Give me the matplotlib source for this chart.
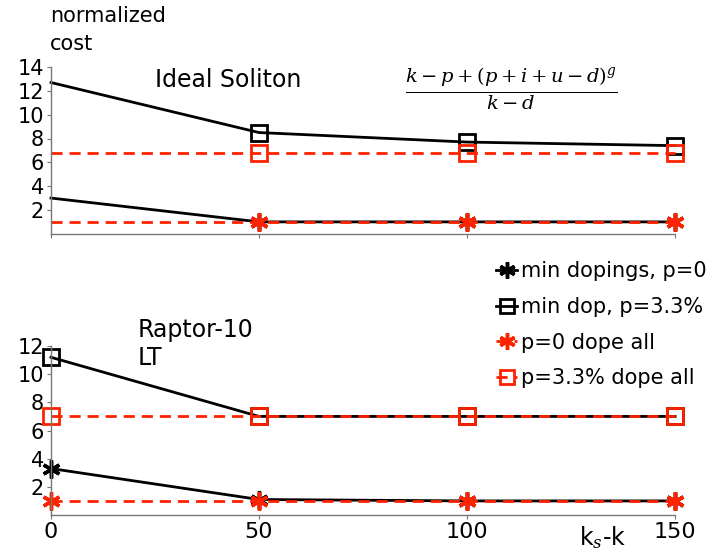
import matplotlib
matplotlib.use("Agg")
import matplotlib.pyplot as plt

# ks-k values
ks_k = [0, 50, 100, 150]

# Ideal Soliton (top panel)
ideal_min_dop_p0 = [3.0, 1.0, 1.0, 1.0]
ideal_min_dop_p33 = [12.7, 8.5, 7.7, 7.4]
ideal_all_p0 = [1.0, 1.0, 1.0, 1.0]
ideal_all_p33 = [6.8, 6.8, 6.8, 6.8]

# Raptor-10 LT (bottom panel)
raptor_min_dop_p0 = [3.3, 1.1, 1.0, 1.0]
raptor_min_dop_p33 = [11.2, 7.0, 7.0, 7.0]
raptor_all_p0 = [1.0, 1.0, 1.0, 1.0]
raptor_all_p33 = [7.0, 7.0, 7.0, 7.0]

labels = ["min dopings, p=0", "min dop, p=3.3%", "p=0 dope all", "p=3.3% dope all"]
x_ticks = [0, 50, 100, 150]

plt.rcParams['font.family'] = ['DejaVu Sans']
plt.rcParams['mathtext.fontset'] = 'dejavuserif'

fig = plt.figure(figsize=(7.1, 5.54), dpi=100)
ax_top = fig.add_axes([0.0718, 0.578, 0.879, 0.301])
ax_bot = fig.add_axes([0.0718, 0.0704, 0.879, 0.305])

red = '#ff2200'
star = (6, 2, 0)


def draw(ax, series, every):
    a, b, c, d = series
    ax.plot(ks_k, a, '-', color='black', lw=2, marker=star, ms=13, mew=2.5,
            markevery=every, clip_on=False, label=labels[0])
    ax.plot(ks_k, b, '-', color='black', lw=2, marker='s', ms=11, mfc='none',
            mew=2, markevery=every, clip_on=False, label=labels[1])
    ax.plot(ks_k, c, '--', color=red, lw=2, dashes=(4, 2.5), marker=star,
            ms=13, mew=2.5, markevery=every, clip_on=False, label=labels[2])
    ax.plot(ks_k, d, '--', color=red, lw=2, dashes=(4, 2.5), marker='s', ms=11,
            mfc='none', mew=2, markevery=every, clip_on=False, label=labels[3])
    ax.set_xlim(0, 150)
    for s in ['top', 'right']:
        ax.spines[s].set_visible(False)
    for s in ['left', 'bottom']:
        ax.spines[s].set_color('#777777')
        ax.spines[s].set_linewidth(1)
    ax.set_xticks(x_ticks)
    ax.tick_params(axis='both', colors='#777777', length=3, labelcolor='black',
                   labelsize=15, pad=2)


draw(ax_top, [ideal_min_dop_p0, ideal_min_dop_p33, ideal_all_p0, ideal_all_p33], [1, 2, 3])
ax_top.set_ylim(0, 14)
ax_top.set_yticks([2, 4, 6, 8, 10, 12, 14])
ax_top.set_xticklabels([])

draw(ax_bot, [raptor_min_dop_p0, raptor_min_dop_p33, raptor_all_p0, raptor_all_p33], [0, 1, 2, 3])
ax_bot.set_ylim(0, 12)
ax_bot.set_yticks([2, 4, 6, 8, 10, 12])
ax_bot.tick_params(axis='x', labelsize=16)

fig.text(0.07, 0.99, "normalized\ncost", fontsize=15, va='top', ha='left', linespacing=1.5)
fig.text(0.218, 0.855, "Ideal Soliton", fontsize=17, va='center', ha='left')
fig.text(0.72, 0.84, r"$\frac{k-p+(p+i+u-d)^g}{k-d}$", fontsize=20, ha='center', va='center')
fig.text(0.194, 0.332, "Raptor-10\nLT", fontsize=17, va='bottom', ha='left', linespacing=1.2)
fig.text(0.815, 0.03, r"k$_s$-k", fontsize=17, ha='left', va='center')

ax_bot.legend(loc='upper left', bbox_to_anchor=(0.70, 1.55), frameon=False,
              fontsize=15, handlelength=1.0, handletextpad=0.2, labelspacing=0.75,
              borderaxespad=0, markerscale=0.9)

fig.savefig("out.png", dpi=100)
